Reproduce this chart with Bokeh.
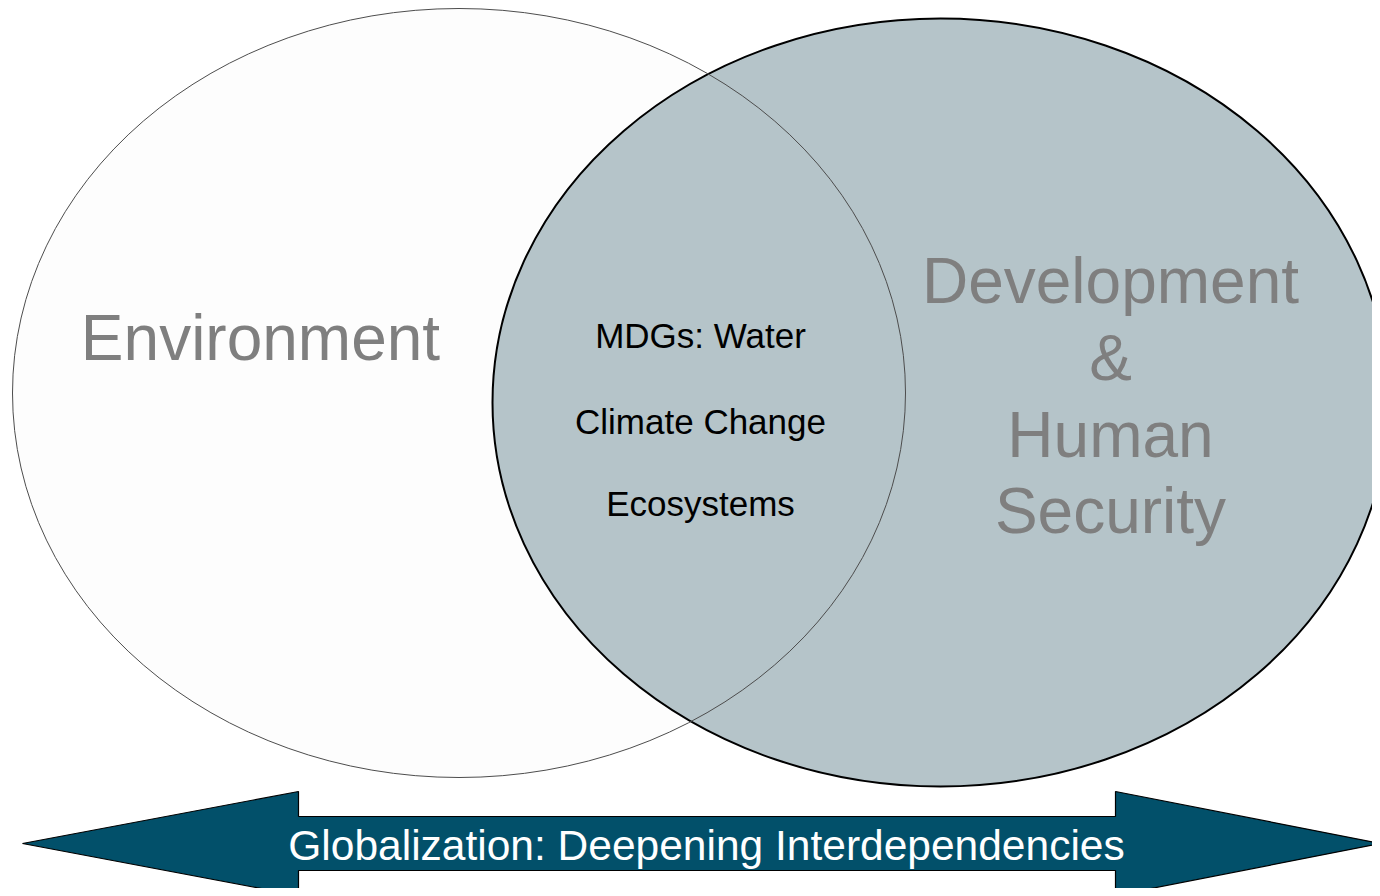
from bokeh.plotting import figure
from bokeh.models import Range1d
from bokeh.embed import file_html
from bokeh.resources import INLINE
from bokeh.core.properties import value

# ---- content ----
left_label = ["Environment"]
right_label = ["Development", "&", "Human", "Security"]
overlap_items = ["MDGs: Water", "Climate Change", "Ecosystems"]
arrow_label = "Globalization: Deepening Interdependencies"

# ---- layout (screen-like coordinates, y downward) ----
W, H = 1372, 888
p = figure(width=W, height=H, output_backend="svg", toolbar_location=None,
           x_range=Range1d(0, W), y_range=Range1d(H, 0),
           min_border=0, min_border_left=0, min_border_right=0,
           min_border_top=0, min_border_bottom=0)
p.axis.visible = False
p.grid.visible = False
p.outline_line_color = None
p.background_fill_color = "white"
p.border_fill_color = "white"

# left ellipse fill
p.ellipse(x=[458.5], y=[392.5], width=[893], height=[769],
          fill_color="#fdfdfd", line_color=None)
# right ellipse
p.ellipse(x=[940], y=[402], width=[896], height=[768],
          fill_color="#b5c4c9", line_color="#000000", line_width=2)
# left ellipse outline on top
p.ellipse(x=[458.5], y=[392.5], width=[893], height=[769],
          fill_color=None, line_color="#4d4d4d", line_width=1)

# arrow
cy = 843
xs = [22, 298, 298, 1115, 1115, 1380, 1115, 1115, 298, 298]
ys = [cy, cy - 52, cy - 27, cy - 27, cy - 52, cy, cy + 52, cy + 27, cy + 27, cy + 52]
p.patch(xs, ys, fill_color="#02506a", line_color="#000000", line_width=1.2)

font = value("Liberation Sans")

p.text(x=[260], y=[337], text=left_label, text_font=font, text_font_size="64px",
       text_color="#7f7f7f", text_align="center", text_baseline="middle")

p.text(x=[1110] * 4, y=[280, 357, 434, 510], text=right_label, text_font=font,
       text_font_size="64px", text_color="#7f7f7f", text_align="center",
       text_baseline="middle")

p.text(x=[700] * 3, y=[335, 421, 503], text=overlap_items, text_font=font,
       text_font_size="35px", text_color="#000000", text_align="center",
       text_baseline="middle")

p.text(x=[706], y=[845], text=[arrow_label], text_font=font, text_font_size="42.5px",
       text_color="#ffffff", text_align="center", text_baseline="middle")

open("out.html", "w").write(file_html(p, INLINE))
